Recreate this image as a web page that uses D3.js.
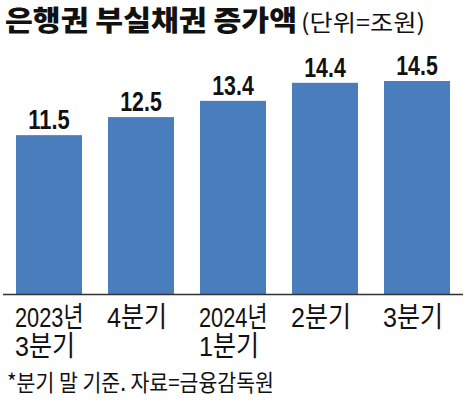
<!DOCTYPE html>
<html>
<head>
<meta charset="utf-8">
<script src="https://cdn.jsdelivr.net/npm/d3@7"></script>
<style>
html,body{margin:0;padding:0;background:#fff;}
svg{display:block;}
</style>
</head>
<body>
<svg id="chart" width="468" height="402"></svg>
<script>
const categories = ["2023년\n3분기", "4분기", "2024년\n1분기", "2분기", "3분기"];
const values = [11.5, 12.5, 13.4, 14.4, 14.5];
const valueLabels = ["11.5", "12.5", "13.4", "14.4", "14.5"];
const title = "은행권 부실채권 증가액";
const unitText = "(단위=조원)";
const footnote = "*분기 말 기준. 자료=금융감독원";

const svg = d3.select("#chart");
const W = 468, H = 402;
svg.append("rect").attr("width", W).attr("height", H).attr("fill", "#fff");

const base = 294;
const x = d3.scaleBand().domain(categories).range([3, 463]).paddingInner(0.2826).paddingOuter(0.1413);
const y = d3.scaleLinear().domain([2.7, 14.5]).range([base, 81]);

const latin = "'Liberation Sans', Arial, 'Noto Sans CJK KR', sans-serif";
const cjk = "'Noto Sans CJK KR', 'Noto Sans', sans-serif";

// condensed width model (px per character)
function lineWidth(s) {
  let w = 0;
  for (const ch of s) {
    if (/[0-9]/.test(ch)) w += 11;
    else if (ch === ".") w += 5.5;
    else w += 24.5;
  }
  return w;
}

// title
svg.append("text").attr("x", 5).attr("y", 31)
  .attr("font-family", cjk).attr("font-weight", 900).attr("font-size", 28)
  .attr("fill", "#111")
  .attr("textLength", 292).attr("lengthAdjust", "spacingAndGlyphs")
  .text(title);
svg.append("text").attr("x", 301).attr("y", 31)
  .attr("font-family", cjk).attr("font-weight", 400).attr("font-size", 23)
  .attr("fill", "#111")
  .attr("textLength", 124).attr("lengthAdjust", "spacingAndGlyphs")
  .text(unitText);

// bars
svg.append("g").selectAll("rect").data(values).join("rect")
  .attr("x", (d, i) => x(categories[i]))
  .attr("y", d => y(d))
  .attr("width", x.bandwidth())
  .attr("height", d => base - y(d))
  .attr("fill", "#4a7dbc");

// value labels
svg.append("g").selectAll("text").data(values).join("text")
  .attr("x", (d, i) => x(categories[i]) + x.bandwidth() / 2)
  .attr("y", d => y(d) - 6)
  .attr("text-anchor", "middle")
  .attr("font-family", latin).attr("font-weight", 700).attr("font-size", 27)
  .attr("fill", "#111")
  .attr("textLength", (d, i) => lineWidth(valueLabels[i]) + 3)
  .attr("lengthAdjust", "spacingAndGlyphs")
  .text((d, i) => valueLabels[i]);

// axis
const axis = d3.axisBottom(x).tickSize(0).tickFormat("");
const ag = svg.append("g").attr("transform", `translate(0,${base})`).call(axis);
ag.select(".domain").attr("stroke", "#333").attr("stroke-width", 1.3).attr("d", "M3,0.5H463");

// category labels
const lab = svg.append("g").selectAll("g").data(categories).join("g");
lab.each(function(d) {
  const lines = d.split("\n");
  d3.select(this).selectAll("text").data(lines).join("text")
    .attr("x", x(d) - 1)
    .attr("y", (l, i) => 327 + i * 29)
    .attr("font-family", latin).attr("font-size", 28)
    .attr("fill", "#111")
    .attr("textLength", l => lineWidth(l))
    .attr("lengthAdjust", "spacingAndGlyphs")
    .text(l => l);
});

// footnote
svg.append("text").attr("x", 7).attr("y", 391)
  .attr("font-family", cjk).attr("font-size", 23)
  .attr("fill", "#111")
  .attr("textLength", 267).attr("lengthAdjust", "spacingAndGlyphs")
  .text(footnote);
</script>
</body>
</html>
